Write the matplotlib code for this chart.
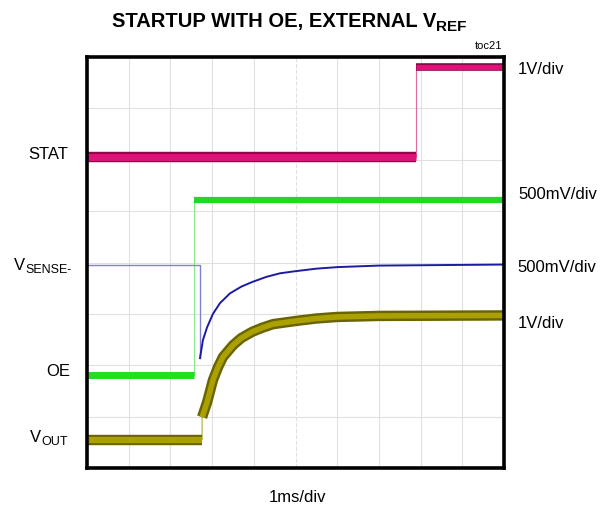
import matplotlib
matplotlib.use("Agg")
import matplotlib.pyplot as plt

plt.rcParams['font.family'] = ['Liberation Sans', 'DejaVu Sans']

# traces, in scope divisions (x: 0..10, y: 0..8 from bottom)
stat_t = [0, 7.89, 7.89, 10]
stat_v = [6.05, 6.05, 7.80, 7.80]

oe_t = [0, 2.57, 2.57, 10]
oe_v = [1.81, 1.81, 5.21, 5.21]

vsense_t = [0, 2.71, 2.71, 2.78, 2.88, 3.02, 3.19, 3.43, 3.70, 3.96, 4.30, 4.63, 4.99, 5.5, 6.0, 7.0, 10]
vsense_v = [3.96, 3.96, 2.14, 2.49, 2.74, 3.00, 3.21, 3.40, 3.53, 3.62, 3.72, 3.79, 3.83, 3.88, 3.91, 3.94, 3.96]

vout_t = [0, 2.76, 2.76, 2.88, 3.02, 3.14, 3.26, 3.50, 3.70, 3.96, 4.20, 4.46, 4.99, 5.5, 6.0, 7.0, 10]
vout_v = [0.545, 0.545, 0.99, 1.28, 1.71, 1.96, 2.16, 2.39, 2.53, 2.65, 2.73, 2.80, 2.86, 2.91, 2.94, 2.96, 2.97]

# (main, subscript) pairs for the channel names
left_labels = [("STAT", ""), ("V", "SENSE-"), ("OE", ""), ("V", "OUT")]
left_px = [(28, 155), (14, 265), (46, 372), (30, 437)]
right_labels = ["1V/div", "500mV/div", "500mV/div", "1V/div"]
right_px = [(518, 70), (518, 195), (517, 267), (518, 323)]

W, H = 603, 513
fig = plt.figure(figsize=(W / 100, H / 100), dpi=100)
ax = fig.add_axes([87 / W, 1 - 468 / H, 417 / W, 411 / H])
ax.set_xlim(0, 10)
ax.set_ylim(0, 8)

# graticule
for i in range(1, 10):
    ax.axvline(i, color='#e0e0e0', lw=0.8, ls='--' if i == 5 else '-', zorder=0)
for j in range(1, 8):
    ax.axhline(j, color='#e0e0e0', lw=0.8, zorder=0)

# STAT
ax.plot(stat_t, stat_v, color='#e06aa0', lw=0.8)
ax.plot(stat_t[:2], stat_v[:2], color='#8c0a48', lw=7.5, solid_capstyle='butt')
ax.plot(stat_t[:2], stat_v[:2], color='#e0127a', lw=5, solid_capstyle='butt')
ax.plot(stat_t[2:], stat_v[2:], color='#8c0a48', lw=5.5, solid_capstyle='butt')
ax.plot(stat_t[2:], stat_v[2:], color='#e0127a', lw=3.5, solid_capstyle='butt')

# OE
ax.plot(oe_t, oe_v, color='#8ee88e', lw=0.8)
ax.plot(oe_t[:2], oe_v[:2], color='#1ee01e', lw=5, solid_capstyle='butt')
ax.plot(oe_t[2:], oe_v[2:], color='#22d822', lw=4.5, solid_capstyle='butt')

# VSENSE-
ax.plot(vsense_t[:3], vsense_v[:3], color='#8080d0', lw=1.0)
ax.plot(vsense_t[2:], vsense_v[2:], color='#1c1ca0', lw=1.4)

# VOUT
ax.plot(vout_t, vout_v, color='#b0aa30', lw=0.8)
ax.plot(vout_t[:2], vout_v[:2], color='#6a6400', lw=7.5, solid_capstyle='butt')
ax.plot(vout_t[:2], vout_v[:2], color='#aaa000', lw=4.5, solid_capstyle='butt')
ax.plot(vout_t[2:], vout_v[2:], color='#6a6400', lw=7.5, solid_capstyle='butt')
ax.plot(vout_t[2:], vout_v[2:], color='#aaa000', lw=4, solid_capstyle='butt')

ax.set_xticks([])
ax.set_yticks([])
for s in ax.spines.values():
    s.set_linewidth(2.6)
    s.set_color('black')

renderer = fig.canvas.get_renderer()


def sub_text(x, y, main, sub, size, sub_size, drop, **kw):
    t = fig.text(x / W, 1 - y / H, main, ha='left', va='center', fontsize=size, **kw)
    if sub:
        bb = t.get_window_extent(renderer)
        fig.text(bb.x1 / W, 1 - (y + drop) / H, sub, ha='left', va='center',
                 fontsize=sub_size, **kw)


for (m, s), (x, y) in zip(left_labels, left_px):
    sub_text(x, y, m, s, 12, 9, 5)
for lab, (x, y) in zip(right_labels, right_px):
    fig.text(x / W, 1 - y / H, lab, ha='left', va='center', fontsize=12)

sub_text(112, 21, "STARTUP WITH OE, EXTERNAL V", "REF", 14.5, 11, 6, fontweight='bold')
fig.text(502 / W, 1 - 46 / H, "toc21", ha='right', va='center', fontsize=8)
fig.text(297 / W, 1 - 497 / H, "1ms/div", ha='center', va='center', fontsize=12)

fig.savefig("out.png", dpi=100)
